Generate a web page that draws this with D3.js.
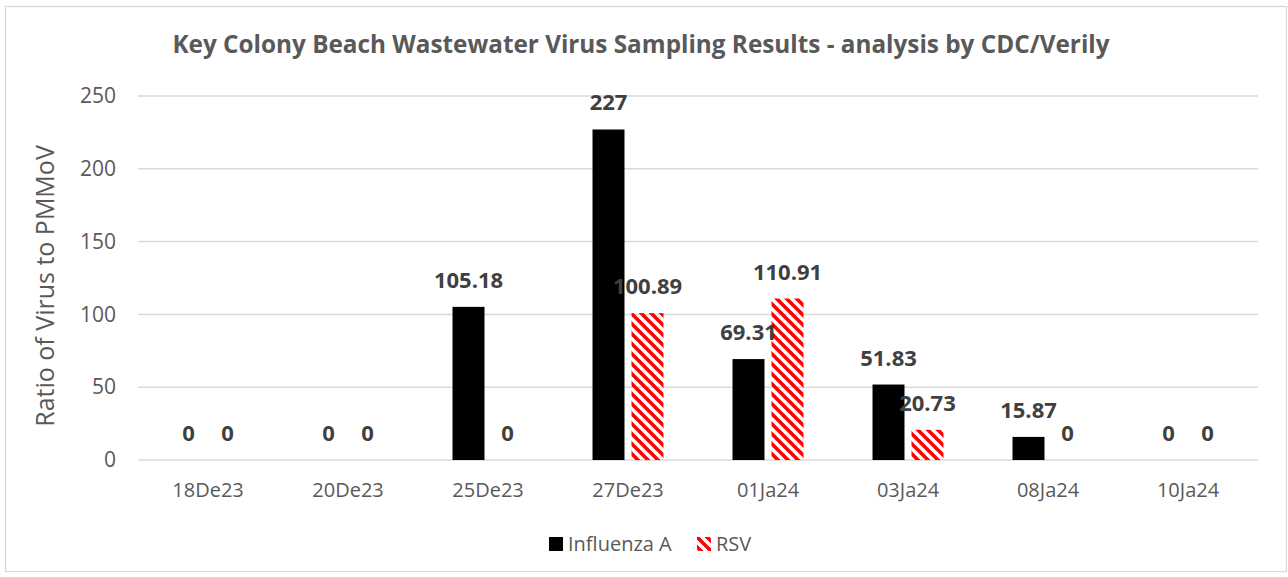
<!DOCTYPE html>
<html>
<head>
<meta charset="utf-8">
<script src="https://cdn.jsdelivr.net/npm/d3@7"></script>
<style>
  html, body { margin: 0; padding: 0; background: #fff; }
  svg text { font-family: "Open Sans", sans-serif; }
</style>
</head>
<body>
<div id="chart"></div>
<script>
"use strict";

var dates = ["18De23", "20De23", "25De23", "27De23", "01Ja24", "03Ja24", "08Ja24", "10Ja24"];
var seriesNames = ["Influenza A", "RSV"];
var influenzaA = [0, 0, 105.18, 227, 69.31, 51.83, 15.87, 0];
var rsv = [0, 0, 0, 100.89, 110.91, 20.73, 0, 0];
var yTicks = [0, 50, 100, 150, 200, 250];

var W = 1288, H = 577;
var plot = { left: 138, right: 1258, top: 96, bottom: 460 };

var svg = d3.select("#chart").append("svg")
    .attr("width", W)
    .attr("height", H);

// hatch for RSV (wide downward diagonal)
var defs = svg.append("defs");
defs.append("pattern")
    .attr("id", "hatch")
    .attr("patternUnits", "userSpaceOnUse")
    .attr("width", 10)
    .attr("height", 10)
    .append("path")
    .attr("d", "M-5,5 L5,15 M0,0 L10,10 M5,-5 L15,5")
    .attr("stroke", "#ff0000")
    .attr("stroke-width", 3.6);

svg.append("rect")
    .attr("x", 5.5).attr("y", 6.5)
    .attr("width", 1281).attr("height", 565)
    .attr("fill", "#fff")
    .attr("stroke", "#d9d9d9")
    .attr("stroke-width", 1.3);

svg.append("text")
    .attr("x", 641).attr("y", 53)
    .attr("text-anchor", "middle")
    .attr("font-size", 24.3)
    .attr("font-weight", "bold")
    .attr("fill", "#595959")
    .text("Key Colony Beach Wastewater Virus Sampling Results - analysis by CDC/Verily");

var x0 = d3.scaleBand().domain(dates).range([plot.left, plot.right]);
var x1 = d3.scaleBand().domain(seriesNames).range([0, x0.bandwidth()])
    .paddingInner(0.18).paddingOuter(0.885);
var y = d3.scaleLinear().domain([0, 250]).range([plot.bottom, plot.top]);

// gridlines
svg.append("g").selectAll("line")
    .data(yTicks)
    .join("line")
    .attr("x1", plot.left).attr("x2", plot.right)
    .attr("y1", function (d) { return y(d); })
    .attr("y2", function (d) { return y(d); })
    .attr("stroke", "#d9d9d9")
    .attr("stroke-width", 1.5);

// y tick labels
var yAxis = svg.append("g")
    .attr("transform", "translate(" + (plot.left - 22) + ",0)")
    .call(d3.axisLeft(y).tickValues(yTicks).tickSize(0).tickPadding(0));
yAxis.select(".domain").remove();
yAxis.selectAll("text")
    .attr("font-size", 21)
    .attr("fill", "#595959")
    .style("font-family", "Open Sans");

// x tick labels
var xAxis = svg.append("g")
    .attr("transform", "translate(0," + plot.bottom + ")")
    .call(d3.axisBottom(x0).tickSize(0).tickPadding(23));
xAxis.select(".domain").remove();
xAxis.selectAll("text")
    .attr("font-size", 20)
    .attr("fill", "#595959")
    .style("font-family", "Open Sans");

svg.append("text")
    .attr("transform", "translate(54,286) rotate(-90)")
    .attr("text-anchor", "middle")
    .attr("font-size", 25)
    .attr("fill", "#595959")
    .text("Ratio of Virus to PMMoV");

var rows = dates.map(function (d, i) {
    return { date: d, values: [
        { key: "Influenza A", v: influenzaA[i] },
        { key: "RSV", v: rsv[i] }
    ] };
});

var fills = { "Influenza A": "#000000", "RSV": "url(#hatch)" };

var groups = svg.append("g").selectAll("g")
    .data(rows)
    .join("g")
    .attr("transform", function (d) { return "translate(" + x0(d.date) + ",0)"; });

groups.selectAll("rect")
    .data(function (d) { return d.values; })
    .join("rect")
    .attr("x", function (d) { return x1(d.key); })
    .attr("y", function (d) { return y(d.v); })
    .attr("width", x1.bandwidth())
    .attr("height", function (d) { return y(0) - y(d.v); })
    .attr("fill", function (d) { return fills[d.key]; });

groups.selectAll("text")
    .data(function (d) { return d.values; })
    .join("text")
    .attr("x", function (d) { return x1(d.key) + x1.bandwidth() / 2; })
    .attr("y", function (d) { return y(d.v) - 19; })
    .attr("text-anchor", "middle")
    .attr("font-size", 22)
    .attr("font-weight", "bold")
    .attr("fill", "#404040")
    .text(function (d) { return d.v; });

// legend
var legend = svg.append("g").attr("transform", "translate(549,537)");
var li = legend.selectAll("g")
    .data(seriesNames)
    .join("g")
    .attr("transform", function (d, i) { return "translate(" + (i * 148) + ",0)"; });
li.append("rect")
    .attr("width", 14).attr("height", 14)
    .attr("fill", function (d) { return fills[d]; });
li.append("text")
    .attr("x", 19).attr("y", 14)
    .attr("font-size", 20)
    .attr("fill", "#595959")
    .text(function (d) { return d; });
</script>
</body>
</html>
